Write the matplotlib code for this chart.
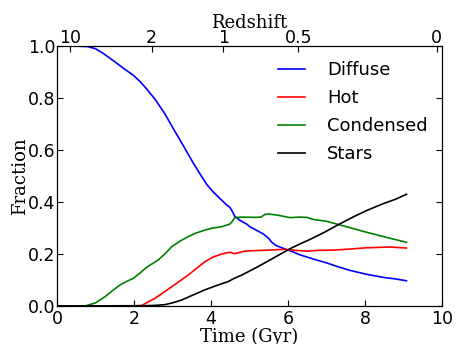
import matplotlib
matplotlib.use("Agg")
import matplotlib.pyplot as plt

# Data
t_diffuse = [0.0, 0.5, 0.8, 1.0, 1.2, 1.5, 1.75, 1.98, 2.15, 2.3, 2.55, 2.8, 3.02, 3.32, 3.54, 3.75, 3.89, 4.05, 4.23, 4.4, 4.49, 4.55, 4.62, 4.75, 4.93, 5.01, 5.2, 5.36, 5.5, 5.58, 5.7, 5.88, 6.1, 6.31, 6.5, 6.74, 7.0, 7.26, 7.61, 8.04, 8.48, 8.8, 9.08]
diffuse = [1.0, 1.0, 0.998, 0.99, 0.972, 0.94, 0.912, 0.888, 0.865, 0.84, 0.795, 0.74, 0.683, 0.607, 0.55, 0.5, 0.468, 0.44, 0.414, 0.39, 0.38, 0.365, 0.345, 0.33, 0.315, 0.305, 0.29, 0.277, 0.26, 0.245, 0.232, 0.222, 0.21, 0.197, 0.188, 0.177, 0.166, 0.153, 0.137, 0.122, 0.110, 0.104, 0.097]

t_hot = [0.0, 2.0, 2.2, 2.4, 2.55, 2.75, 2.98, 3.2, 3.41, 3.6, 3.84, 4.05, 4.28, 4.45, 4.52, 4.6, 4.75, 4.88, 5.14, 5.5, 5.88, 6.2, 6.49, 6.8, 7.18, 7.6, 8.04, 8.65, 9.08]
hot = [0.0, 0.0, 0.002, 0.018, 0.03, 0.05, 0.074, 0.097, 0.119, 0.142, 0.17, 0.188, 0.2, 0.206, 0.206, 0.201, 0.206, 0.211, 0.213, 0.215, 0.218, 0.214, 0.211, 0.214, 0.215, 0.219, 0.224, 0.227, 0.223]

t_cond = [0.0, 0.73, 1.0, 1.25, 1.45, 1.64, 1.8, 1.98, 2.15, 2.33, 2.5, 2.63, 2.8, 2.98, 3.2, 3.41, 3.6, 3.84, 4.05, 4.28, 4.49, 4.55, 4.62, 4.8, 5.14, 5.3, 5.4, 5.49, 5.71, 6.05, 6.3, 6.49, 6.66, 7.0, 7.35, 7.96, 8.48, 9.08]
condensed = [0.0, 0.0, 0.012, 0.036, 0.06, 0.081, 0.094, 0.106, 0.126, 0.149, 0.165, 0.177, 0.2, 0.228, 0.25, 0.267, 0.28, 0.292, 0.3, 0.305, 0.315, 0.325, 0.34, 0.342, 0.341, 0.342, 0.352, 0.354, 0.35, 0.34, 0.342, 0.341, 0.333, 0.326, 0.312, 0.287, 0.267, 0.245]

t_stars = [0.0, 2.2, 2.5, 2.8, 3.0, 3.24, 3.5, 3.84, 4.15, 4.45, 4.6, 4.8, 5.14, 5.45, 5.75, 6.05, 6.3, 6.57, 6.9, 7.35, 7.7, 8.04, 8.48, 8.8, 9.08]
stars = [0.0, 0.001, 0.002, 0.005, 0.012, 0.023, 0.04, 0.062, 0.079, 0.094, 0.106, 0.119, 0.145, 0.17, 0.195, 0.22, 0.238, 0.256, 0.28, 0.316, 0.343, 0.367, 0.394, 0.411, 0.43]

z_labels = ["10", "2", "1", "0.5", "0"]
z_times = [0.34, 2.46, 4.32, 6.27, 9.86]

tick_fs = 12.5
label_fs = 13
legend_fs = 13
fig = plt.figure(figsize=(4.57, 3.44), dpi=100)
ax = fig.add_axes([0.1247, 0.1105, 0.8423, 0.7555])

ax.plot(t_diffuse, diffuse, color="blue", lw=1.2, label="Diffuse")
ax.plot(t_hot, hot, color="red", lw=1.2, label="Hot")
ax.plot(t_cond, condensed, color="green", lw=1.2, label="Condensed")
ax.plot(t_stars, stars, color="black", lw=1.2, label="Stars")

ax.set_xlim(0, 10)
ax.set_ylim(0, 1)
ax.set_xticks([0, 2, 4, 6, 8, 10])
ax.set_yticks([0.0, 0.2, 0.4, 0.6, 0.8, 1.0])
ax.tick_params(direction="in", length=4, labelsize=tick_fs, right=True, top=False)
ax.tick_params(axis="x", pad=3)
ax.tick_params(axis="y", pad=1)
ax.set_xlabel("Time (Gyr)", family="DejaVu Serif", fontsize=label_fs, labelpad=0)
ax.set_ylabel("Fraction", family="DejaVu Serif", fontsize=label_fs, labelpad=-1)

ax2 = ax.twiny()
ax2.set_xlim(0, 10)
ax2.set_xticks(z_times)
ax2.set_xticklabels(z_labels)
ax2.tick_params(direction="in", length=4, labelsize=tick_fs, pad=-1)
ax2.set_xlabel("Redshift", family="DejaVu Serif", fontsize=label_fs, labelpad=1)

leg = ax.legend(loc="upper right", frameon=False, fontsize=legend_fs, handlelength=1.5,
                labelspacing=0.55, borderaxespad=0.0, handletextpad=1.2,
                bbox_to_anchor=(0.982, 0.97))

fig.savefig("out.png", dpi=100)
